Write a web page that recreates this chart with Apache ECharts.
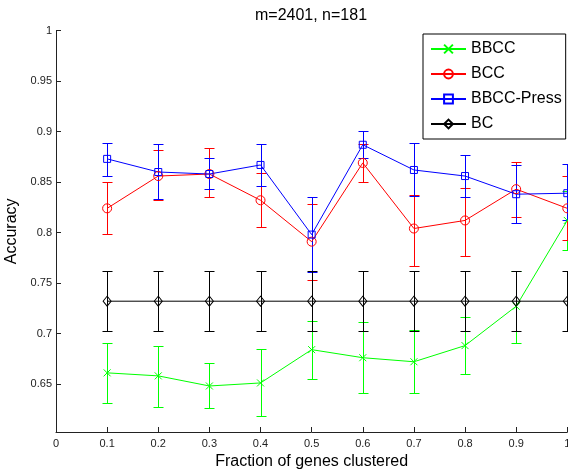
<!DOCTYPE html>
<html>
<head>
<meta charset="utf-8">
<script src="https://cdn.jsdelivr.net/npm/echarts@6/dist/echarts.min.js"></script>
<style>
html,body{margin:0;padding:0;background:#fff;}
#chart{width:568px;height:474px;}
</style>
</head>
<body>
<div id="chart"></div>
<script>
// ---- data ----
const titleText = 'm=2401, n=181';
const xLabelText = 'Fraction of genes clustered';
const yLabelText = 'Accuracy';
const seriesNames = ['BBCC', 'BCC', 'BBCC-Press', 'BC'];
const xValues = [0.1, 0.2, 0.3, 0.4, 0.5, 0.6, 0.7, 0.8, 0.9, 1.0];
const xTicks = [0, 0.1, 0.2, 0.3, 0.4, 0.5, 0.6, 0.7, 0.8, 0.9, 1];
const yTicks = [0.65, 0.7, 0.75, 0.8, 0.85, 0.9, 0.95, 1];

const bbccMean = [0.661, 0.658, 0.648, 0.651, 0.684, 0.676, 0.672, 0.688, 0.727, 0.812];
const bbccLow  = [0.631, 0.627, 0.626, 0.618, 0.655, 0.641, 0.641, 0.660, 0.691, 0.783];
const bbccHigh = [0.691, 0.688, 0.671, 0.685, 0.712, 0.711, 0.703, 0.716, 0.762, 0.841];

const bccMean = [0.824, 0.856, 0.858, 0.832, 0.791, 0.869, 0.804, 0.812, 0.843, 0.824];
const bccLow  = [0.799, 0.832, 0.835, 0.806, 0.753, 0.850, 0.767, 0.777, 0.815, 0.793];
const bccHigh = [0.850, 0.882, 0.884, 0.859, 0.828, 0.888, 0.837, 0.844, 0.870, 0.856];

const pressMean = [0.873, 0.860, 0.858, 0.867, 0.798, 0.887, 0.862, 0.856, 0.838, 0.839];
const pressLow  = [0.856, 0.833, 0.843, 0.846, 0.761, 0.874, 0.836, 0.835, 0.809, 0.812];
const pressHigh = [0.889, 0.888, 0.874, 0.888, 0.835, 0.901, 0.889, 0.877, 0.867, 0.868];

const bcMean = [0.732, 0.732, 0.732, 0.732, 0.732, 0.732, 0.732, 0.732, 0.732, 0.732];
const bcLow  = [0.702, 0.702, 0.702, 0.702, 0.702, 0.702, 0.702, 0.702, 0.702, 0.702];
const bcHigh = [0.762, 0.762, 0.762, 0.762, 0.762, 0.762, 0.762, 0.762, 0.762, 0.762];

// ---- build ----
const FONT = '"Liberation Sans", Arial, Helvetica, sans-serif';
const yMin = 0.6024, yMax = 1;

const groups = [
  {name: seriesNames[0], mean: bbccMean, low: bbccLow, high: bbccHigh, color: '#00ff00',
   symbol: 'path://M0,0L10,10M10,0L0,10', size: 7},
  {name: seriesNames[1], mean: bccMean, low: bccLow, high: bccHigh, color: '#ff0000',
   symbol: 'circle', size: 9},
  {name: seriesNames[2], mean: pressMean, low: pressLow, high: pressHigh, color: '#0000ff',
   symbol: 'rect', size: 7},
  {name: seriesNames[3], mean: bcMean, low: bcLow, high: bcHigh, color: '#000000',
   symbol: 'diamond', size: [8, 10]}
];

function errRender(color) {
  return function (params, api) {
    const x = api.value(0), lo = api.value(1), hi = api.value(2);
    const p1 = api.coord([x, lo]);
    const p2 = api.coord([x, hi]);
    const cx = Math.round(p1[0]) + 0.5;
    const y1 = Math.round(p1[1]) + 0.5, y2 = Math.round(p2[1]) + 0.5;
    const hw = 5;
    const st = {stroke: color, lineWidth: 1};
    return {
      type: 'group',
      children: [
        {type: 'line', shape: {x1: cx, y1: y1, x2: cx, y2: y2}, style: st},
        {type: 'line', shape: {x1: cx - hw, y1: y1, x2: cx + hw, y2: y1}, style: st},
        {type: 'line', shape: {x1: cx - hw, y1: y2, x2: cx + hw, y2: y2}, style: st}
      ]
    };
  };
}

const series = [];
groups.forEach(function (g) {
  series.push({
    name: g.name + ' error',
    type: 'custom',
    clip: false,
    silent: true,
    renderItem: errRender(g.color),
    data: xValues.map(function (x, i) { return [x, g.low[i], g.high[i]]; }),
    encode: {x: 0, y: [1, 2]},
    z: 2
  });
});
groups.forEach(function (g) {
  series.push({
    name: g.name,
    type: 'line',
    clip: false,
    symbol: g.symbol,
    symbolSize: g.size,
    showAllSymbol: true,
    animation: false,
    lineStyle: {color: g.color, width: 1},
    itemStyle: {color: 'rgba(255,255,255,0)', borderColor: g.color, borderWidth: 1},
    data: xValues.map(function (x, i) { return [x, g.mean[i]]; }),
    z: 3
  });
});

const chart = echarts.init(document.getElementById('chart'), null, {renderer: 'canvas'});
chart.setOption({
  animation: false,
  backgroundColor: '#ffffff',
  textStyle: {fontFamily: FONT},
  grid: {left: 56, right: 0.7, top: 30.7, bottom: 42, containLabel: false, outerBoundsMode: 'none'},
  graphic: [{
    type: 'text', x: 311, y: 16,
    style: {text: titleText, font: '16px ' + FONT, fill: '#000', textAlign: 'center', textVerticalAlign: 'middle'}
  }],
  legend: {
    data: seriesNames,
    orient: 'vertical',
    left: 423, top: 34,
    padding: [7, 4, 7, 7],
    itemWidth: 35, itemHeight: 11, itemGap: 9,
    backgroundColor: '#ffffff',
    borderColor: '#000000', borderWidth: 1,
    borderRadius: 0,
    selectedMode: false,
    textStyle: {fontFamily: FONT, fontSize: 16, color: '#000'}
  },
  xAxis: {
    type: 'value', min: 0, max: 1, interval: 0.1,
    name: xLabelText, nameLocation: 'middle', nameGap: 20,
    nameTextStyle: {fontFamily: FONT, fontSize: 16, color: '#000'},
    axisLine: {show: true, onZero: false, lineStyle: {color: '#222', width: 1}},
    axisTick: {show: true, inside: true, length: 5, lineStyle: {color: '#222'}, customValues: xTicks},
    axisLabel: {fontFamily: FONT, fontSize: 11, color: '#222', margin: 6, customValues: xTicks,
      formatter: function (v) { return String(+(+v).toFixed(2)); }},
    splitLine: {show: false}
  },
  yAxis: {
    type: 'value', min: yMin, max: yMax,
    name: yLabelText, nameLocation: 'middle', nameGap: 29,
    nameTextStyle: {fontFamily: FONT, fontSize: 16, color: '#000'},
    axisLine: {show: true, onZero: false, lineStyle: {color: '#222', width: 1}},
    axisTick: {show: true, inside: true, length: 5, lineStyle: {color: '#222'}, customValues: yTicks},
    axisLabel: {fontFamily: FONT, fontSize: 11, color: '#222', margin: 4, customValues: yTicks,
      formatter: function (v) { return String(+(+v).toFixed(2)); }},
    splitLine: {show: false}
  },
  series: series
});
</script>
</body>
</html>
